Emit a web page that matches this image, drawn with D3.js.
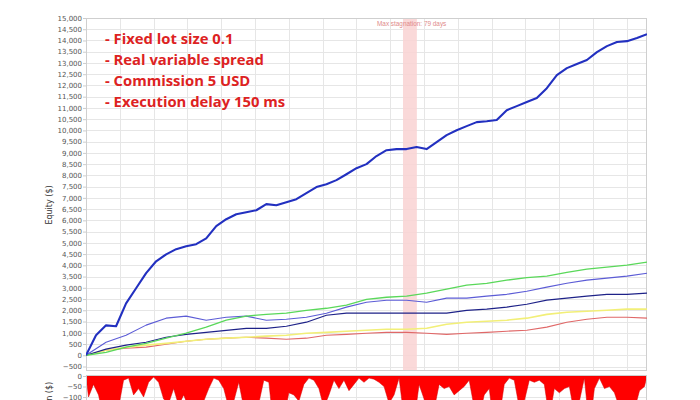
<!DOCTYPE html>
<html><head><meta charset="utf-8">
<script src="https://cdn.jsdelivr.net/npm/d3@7/dist/d3.min.js"></script>
<style>html,body{margin:0;padding:0;background:#fff;} svg{display:block;}</style>
</head><body>
<svg id="chart" width="700" height="400"></svg>
<script>
// ---- data ----
const totalTrades = 1660;
const equityTicks = d3.range(-500, 15001, 500);
const drawdownTicks = [0, -50, -100];
const notes = ["- Fixed lot size 0.1", "- Real variable spread", "- Commission 5 USD", "- Execution delay 150 ms"];
const stagnationLabel = "Max stagnation: 79 days";
const stagnationRange = [938, 979];

const mainEquity = [0, 890, 1330, 1290, 2310, 2980, 3650, 4180, 4490, 4720, 4850, 4940, 5200, 5740, 6050, 6270, 6360, 6450, 6720, 6670, 6810, 6940, 7210, 7480, 7610, 7790, 8050, 8320, 8500, 8860, 9120, 9170, 9170, 9260, 9170, 9480, 9790, 10010, 10190, 10370, 10410, 10460, 10900, 11080, 11260, 11440, 11880, 12460, 12770, 12950, 13130, 13480, 13750, 13930, 13970, 14110, 14280];
const greenEquity = [0, 130, 360, 530, 760, 980, 1250, 1560, 1740, 1820, 1870, 2000, 2090, 2230, 2490, 2580, 2630, 2760, 2940, 3120, 3200, 3340, 3450, 3520, 3690, 3830, 3920, 4010, 4140];
const purpleEquity = [0, 580, 890, 1340, 1650, 1740, 1560, 1690, 1740, 1560, 1600, 1690, 1870, 2140, 2360, 2450, 2450, 2360, 2540, 2540, 2630, 2710, 2850, 3030, 3200, 3340, 3430, 3520, 3650];
const navyEquity = [0, 270, 450, 580, 800, 930, 1020, 1110, 1200, 1200, 1290, 1470, 1780, 1870, 1870, 1870, 1870, 1870, 1870, 2000, 2050, 2140, 2270, 2450, 2540, 2630, 2710, 2710, 2760];
const yellowEquity = [0, 220, 360, 450, 530, 620, 710, 760, 800, 850, 890, 980, 1020, 1070, 1110, 1160, 1160, 1200, 1380, 1470, 1510, 1560, 1650, 1820, 1910, 1960, 2000, 2050, 2050];
const redEquity = [0, 220, 310, 360, 490, 620, 710, 760, 800, 760, 710, 760, 890, 930, 980, 1020, 1020, 980, 930, 980, 1020, 1070, 1110, 1250, 1470, 1600, 1690, 1690, 1650];

const drawdown = [-100, -40, -90, -200, -250, -250, -150, -20, -10, -90, -60, -100, -30, -5, -30, -110, -130, -60, -140, -90, -150, -250, -200, -120, -60, -10, -20, -60,
  -150, -120, -30, -150, -120, -150, -130, -20, -30, -250, -250, -200, -80, -90, -120, -40, -10, -20, -60, -150, -90, -20, -60, -20, -70, -40, -10, -30, -10,
  -15, -30, -50, -130, -90, -10, -200, -250, -220, -40, -110, -250, -160, -40, -60, -50, -90, -70, -50, -20, -150, -200, -90, -60, -250, -200, -40, -10, -20,
  -150, -120, -20, -30, -20, -40, -200, -60, -80, -60, -50, -180, -120, -10, -250, -60, -10, -60, -50, -80, -150, -250, -200, -160, -70, -50];

// ---- layout ----
const svg = d3.select("#chart");
const pLeft = 86, pRight = 647, pTop = 18, pBottom = 371;
const lowTop = 375, lowBottom = 502;

const x = d3.scaleLinear().domain([0, totalTrades]).range([pLeft, pRight]);
const y = d3.scaleLinear().domain([-700, 15000]).range([pBottom, pTop]);
const yd = d3.scaleLinear().domain([-600, 0]).range([lowBottom, lowTop + 1]);

const gridColor = "#e6e6e6";
const font = "DejaVu Sans, sans-serif";

const defs = svg.append("defs");
defs.append("clipPath").attr("id", "clipTop").append("rect").attr("x", pLeft).attr("y", pTop).attr("width", pRight - pLeft).attr("height", pBottom - pTop);
defs.append("clipPath").attr("id", "clipLow").append("rect").attr("x", pLeft).attr("y", lowTop).attr("width", pRight - pLeft).attr("height", lowBottom - lowTop);

// ---- upper panel ----
const gTop = svg.append("g");
gTop.append("g").selectAll("line").data(equityTicks).join("line")
  .attr("x1", pLeft).attr("x2", pRight).attr("y1", d => Math.round(y(d)) + 0.5).attr("y2", d => Math.round(y(d)) + 0.5)
  .attr("stroke", gridColor).attr("stroke-width", 1);
gTop.append("g").selectAll("line").data(d3.range(100, totalTrades, 100)).join("line")
  .attr("x1", d => Math.round(x(d)) + 0.5).attr("x2", d => Math.round(x(d)) + 0.5).attr("y1", pTop).attr("y2", pBottom)
  .attr("stroke", gridColor).attr("stroke-width", 1);

gTop.append("rect").attr("x", x(stagnationRange[0])).attr("y", pTop)
  .attr("width", x(stagnationRange[1]) - x(stagnationRange[0])).attr("height", pBottom - pTop)
  .attr("fill", "#f9d2d2").attr("opacity", 0.85);
gTop.append("text").attr("x", 377).attr("y", 26).text(stagnationLabel)
  .attr("font-family", "Liberation Sans, Arial, sans-serif").attr("font-size", 6.4).attr("fill", "#e08a8a");

gTop.append("rect").attr("x", pLeft + 0.5).attr("y", pTop + 0.5).attr("width", pRight - pLeft - 1).attr("height", pBottom - pTop - 1)
  .attr("fill", "none").attr("stroke", "#cfcfcf");

const yAxis = d3.axisLeft(y).tickValues(equityTicks).tickSize(3).tickFormat(d3.format(","));
const ya = svg.append("g").attr("transform", `translate(${pLeft},0)`).call(yAxis);
ya.select(".domain").remove();
ya.selectAll("line").attr("stroke", "#ccc");
ya.selectAll("text").attr("font-family", font).attr("font-size", 7).attr("fill", "#555").attr("x", -4);

svg.append("text").attr("transform", "translate(52,205) rotate(-90)").attr("text-anchor", "middle")
  .attr("font-family", font).attr("font-size", 8).attr("fill", "#333").text("Equity ($)");

const series = [
  {v: redEquity, c: "#e06868", w: 1.1},
  {v: yellowEquity, c: "#f2ef78", w: 1.6},
  {v: navyEquity, c: "#1e2288", w: 1.2},
  {v: purpleEquity, c: "#5c5cd6", w: 1.1},
  {v: greenEquity, c: "#5ad85a", w: 1.3},
  {v: mainEquity, c: "#2230c0", w: 2.1}
];
const line = d3.line();
const gLines = svg.append("g").attr("clip-path", "url(#clipTop)");
series.forEach(s => {
  const n = s.v.length - 1;
  gLines.append("path")
    .attr("d", line(s.v.map((v, i) => [x(i * totalTrades / n), y(v)])))
    .attr("fill", "none").attr("stroke", s.c).attr("stroke-width", s.w).attr("stroke-linejoin", "round");
});

const gNotes = svg.append("g");
notes.forEach((t, i) => {
  gNotes.append("text").attr("x", 105).attr("y", 43.5 + i * 21).text(t)
    .attr("font-family", "Open Sans, sans-serif").attr("font-weight", "bold").attr("font-size", 14.8)
    .attr("fill", "#dd2222");
});

// ---- lower panel ----
const gLow = svg.append("g");
gLow.append("g").selectAll("line").data(drawdownTicks).join("line")
  .attr("x1", pLeft).attr("x2", pRight).attr("y1", d => Math.round(yd(d)) + 0.5).attr("y2", d => Math.round(yd(d)) + 0.5)
  .attr("stroke", gridColor);
gLow.append("g").selectAll("line").data(d3.range(100, totalTrades, 100)).join("line")
  .attr("x1", d => Math.round(x(d)) + 0.5).attr("x2", d => Math.round(x(d)) + 0.5).attr("y1", lowTop).attr("y2", lowBottom)
  .attr("stroke", gridColor);
const nb = drawdown.length;
const ddPts = [[0, 0]].concat(drawdown.map((d, i) => [(i + 0.5) * totalTrades / nb, d]), [[totalTrades, 0]]);
const ddArea = d3.area().x(d => x(d[0])).y0(yd(0)).y1(d => yd(d[1]));
gLow.append("g").attr("clip-path", "url(#clipLow)").append("path")
  .attr("d", ddArea(ddPts)).attr("fill", "#ff0000").attr("stroke", "#d40000").attr("stroke-width", 0.5);
gLow.append("rect").attr("x", pLeft + 0.5).attr("y", lowTop + 0.5).attr("width", pRight - pLeft - 1).attr("height", lowBottom - lowTop)
  .attr("fill", "none").attr("stroke", "#cfcfcf");

const ydAxis = d3.axisLeft(yd).tickValues(drawdownTicks).tickSize(3);
const yda = svg.append("g").attr("transform", `translate(${pLeft},0)`).call(ydAxis);
yda.select(".domain").remove();
yda.selectAll("line").attr("stroke", "#ccc");
yda.selectAll("text").attr("font-family", font).attr("font-size", 7).attr("fill", "#555").attr("x", -4);

svg.append("text").attr("transform", "translate(52,410) rotate(-90)").attr("text-anchor", "middle")
  .attr("font-family", font).attr("font-size", 8).attr("fill", "#333").text("Drawdown ($)");
</script>
</body></html>
